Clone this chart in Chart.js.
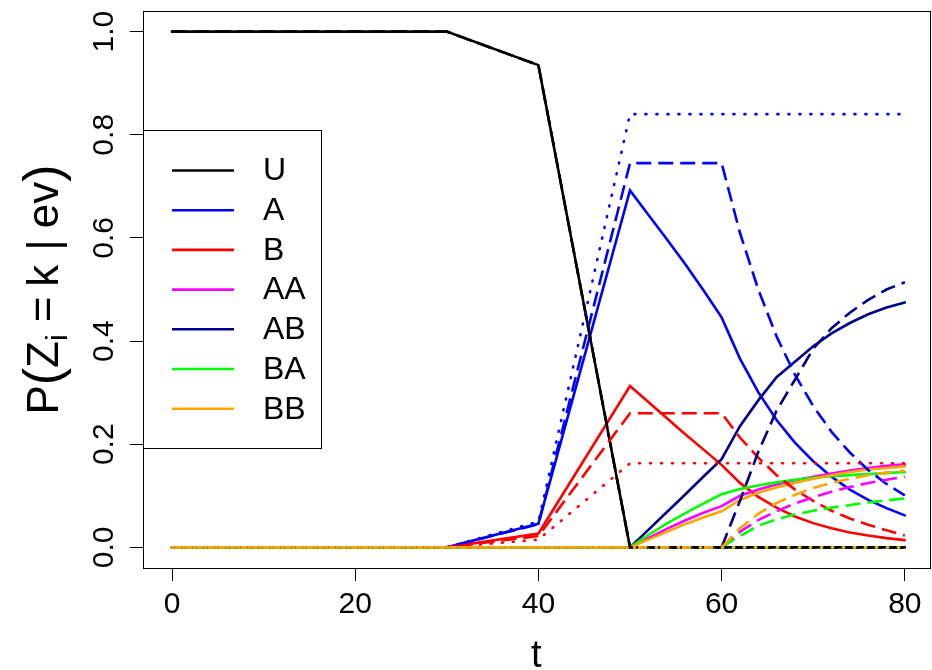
<!DOCTYPE html>
<html>
<head>
<meta charset="utf-8">
<script src="https://cdn.jsdelivr.net/npm/chart.js@4.4.1/dist/chart.umd.min.js"></script>
<style>
  html, body { margin: 0; padding: 0; background: #fff; }
  #wrap { width: 932px; height: 670px; }
</style>
</head>
<body>
<div id="wrap"><canvas id="chart" width="932" height="670"></canvas></div>
<script>
// time grid shared by every series
const tGrid = [0, 30, 40, 50, 52, 54, 56, 58, 60, 62, 64, 66, 68, 70, 72, 74, 76, 78, 80];

// solid lines
const uSolid  = [1, 1, 0.935, 0, 0, 0, 0, 0, 0, 0, 0, 0, 0, 0, 0, 0, 0, 0, 0];
const aSolid  = [0, 0, 0.046, 0.692, 0.645, 0.598, 0.55, 0.499, 0.446, 0.366, 0.301, 0.247, 0.203, 0.167, 0.137, 0.112, 0.092, 0.076, 0.062];
const bSolid  = [0, 0, 0.027, 0.313, 0.282, 0.251, 0.22, 0.19, 0.16, 0.125, 0.098, 0.077, 0.06, 0.047, 0.037, 0.029, 0.023, 0.018, 0.014];
const aaSolid = [0, 0, 0, 0, 0.018, 0.036, 0.052, 0.067, 0.08, 0.1, 0.112, 0.122, 0.13, 0.137, 0.143, 0.149, 0.154, 0.158, 0.161];
const abSolid = [0, 0, 0, 0, 0.034, 0.068, 0.102, 0.137, 0.171, 0.235, 0.285, 0.33, 0.36, 0.39, 0.415, 0.435, 0.452, 0.465, 0.475];
const baSolid = [0, 0, 0, 0, 0.024, 0.046, 0.066, 0.085, 0.103, 0.113, 0.12, 0.126, 0.131, 0.135, 0.138, 0.14, 0.142, 0.144, 0.146];
const bbSolid = [0, 0, 0, 0, 0.015, 0.03, 0.045, 0.058, 0.07, 0.092, 0.106, 0.116, 0.125, 0.133, 0.14, 0.146, 0.151, 0.154, 0.157];

// dashed lines
const uDashed  = [1, 1, 0.935, 0, 0, 0, 0, 0, 0, 0, 0, 0, 0, 0, 0, 0, 0, 0, 0];
const aDashed  = [0, 0, 0.045, 0.745, 0.745, 0.745, 0.745, 0.745, 0.745, 0.61, 0.5, 0.409, 0.335, 0.274, 0.224, 0.184, 0.15, 0.123, 0.101];
const bDashed  = [0, 0, 0.022, 0.26, 0.26, 0.26, 0.26, 0.26, 0.26, 0.213, 0.174, 0.14, 0.112, 0.09, 0.071, 0.056, 0.044, 0.033, 0.023];
const aaDashed = [0, 0, 0, 0, 0, 0, 0, 0, 0, 0.03, 0.053, 0.07, 0.085, 0.097, 0.108, 0.117, 0.125, 0.131, 0.137];
const abDashed = [0, 0, 0, 0, 0, 0, 0, 0, 0, 0.09, 0.185, 0.265, 0.325, 0.385, 0.425, 0.455, 0.48, 0.5, 0.514];
const baDashed = [0, 0, 0, 0, 0, 0, 0, 0, 0, 0.022, 0.042, 0.054, 0.064, 0.071, 0.077, 0.082, 0.087, 0.091, 0.095];
const bbDashed = [0, 0, 0, 0, 0, 0, 0, 0, 0, 0.037, 0.065, 0.086, 0.102, 0.115, 0.125, 0.133, 0.14, 0.145, 0.149];

// dotted lines
const uDotted  = [1, 1, 0.935, 0, 0, 0, 0, 0, 0, 0, 0, 0, 0, 0, 0, 0, 0, 0, 0];
const aDotted  = [0, 0, 0.05, 0.84, 0.84, 0.84, 0.84, 0.84, 0.84, 0.84, 0.84, 0.84, 0.84, 0.84, 0.84, 0.84, 0.84, 0.84, 0.84];
const bDotted  = [0, 0, 0.015, 0.163, 0.163, 0.163, 0.163, 0.163, 0.163, 0.163, 0.163, 0.163, 0.163, 0.163, 0.163, 0.163, 0.163, 0.163, 0.163];
const flatZero = [0, 0, 0, 0, 0, 0, 0, 0, 0, 0, 0, 0, 0, 0, 0, 0, 0, 0, 0];

const seriesNames = ['U', 'A', 'B', 'AA', 'AB', 'BA', 'BB'];
const seriesColors = ['#000000', '#0000ff', '#ff0000', '#ff00ff', '#00008b', '#00ff00', '#ffa500'];
const xTicks = [0, 20, 40, 60, 80];
const yTicks = [0, 0.2, 0.4, 0.6, 0.8, 1.0];

const groups = [
  { dash: [], cap: 'round', values: [uSolid, aSolid, bSolid, aaSolid, abSolid, baSolid, bbSolid] },
  { dash: [15, 7], cap: 'butt', values: [uDashed, aDashed, bDashed, aaDashed, abDashed, baDashed, bbDashed] },
  { dash: [1, 10], cap: 'round', values: [uDotted, aDotted, bDotted, flatZero, flatZero, flatZero, flatZero] },
];

const datasets = [];
groups.forEach(g => {
  g.values.forEach((vals, i) => {
    datasets.push({
      label: seriesNames[i],
      data: tGrid.map((t, k) => ({ x: t, y: vals[k] })),
      borderColor: seriesColors[i],
      borderWidth: 2.6,
      borderDash: g.dash,
      borderCapStyle: g.cap,
      pointRadius: 0,
      tension: 0,
      fill: false,
      order: -datasets.length,
    });
  });
});

const FONT = '"Liberation Sans", Arial, Helvetica, sans-serif';

const decor = {
  id: 'decor',
  afterDatasetsDraw(chart) {
    const ctx = chart.ctx;
    const a = chart.chartArea;
    const ys = chart.scales.y;
    ctx.save();
    // plot box
    ctx.strokeStyle = '#000';
    ctx.lineWidth = 1;
    ctx.strokeRect(Math.round(a.left) + 0.5, Math.round(a.top) + 0.5, Math.round(a.right - a.left), Math.round(a.bottom - a.top));

    // y tick labels, parallel to axis
    ctx.fillStyle = '#000';
    ctx.font = '30px ' + FONT;
    ctx.textAlign = 'center';
    ctx.textBaseline = 'middle';
    yTicks.forEach(v => {
      const y = ys.getPixelForValue(v);
      ctx.save();
      ctx.translate(105, y);
      ctx.rotate(-Math.PI / 2);
      ctx.fillText(v.toFixed(1), 0, 0);
      ctx.restore();
    });

    // x title
    ctx.font = '38px ' + FONT;
    ctx.textBaseline = 'alphabetic';
    ctx.fillText('t', (a.left + a.right) / 2, 667);

    // y title: P(Z_i = k | ev), centred on the plot region
    const parts = [
      ['P', 44, 0, 0], ['(', 52, 2, 0], ['Z', 44, 0, 0], ['i', 30, 9, 12],
      ['=', 44, 0, 10], ['k', 44, 0, 14], ['|', 44, 0, 11], ['ev', 44, 0, 0], [')', 52, 2, 0],
    ];
    let total = 0;
    parts.forEach(p => { ctx.font = p[1] + 'px ' + FONT; total += ctx.measureText(p[0]).width + p[3]; });
    ctx.save();
    ctx.translate(58, (a.top + a.bottom) / 2 + total / 2);
    ctx.rotate(-Math.PI / 2);
    ctx.textAlign = 'left';
    let x = 0;
    parts.forEach(p => {
      ctx.font = p[1] + 'px ' + FONT;
      ctx.fillText(p[0], x, p[2]);
      x += ctx.measureText(p[0]).width + p[3];
    });
    ctx.restore();

    // legend
    const lx = 143.5, ly = 130.5, lw = 178, lh = 318;
    ctx.fillStyle = '#fff';
    ctx.fillRect(lx, ly, lw, lh);
    ctx.strokeStyle = '#000';
    ctx.lineWidth = 1;
    ctx.strokeRect(lx, ly, lw, lh);
    ctx.font = '32px ' + FONT;
    ctx.textAlign = 'left';
    ctx.textBaseline = 'middle';
    seriesNames.forEach((name, i) => {
      const y = 170.5 + i * 39.7;
      ctx.strokeStyle = seriesColors[i];
      ctx.lineWidth = 2.6;
      ctx.beginPath();
      ctx.moveTo(172, y);
      ctx.lineTo(234, y);
      ctx.stroke();
      ctx.fillStyle = '#000';
      ctx.fillText(name, 263, y + 1);
    });
    ctx.restore();
  }
};

new Chart(document.getElementById('chart'), {
  type: 'line',
  data: { datasets },
  options: {
    responsive: false,
    animation: false,
    layout: { padding: { top: 11, right: 2, left: 0, bottom: 0 } },
    plugins: { legend: { display: false }, tooltip: { enabled: false } },
    scales: {
      x: {
        type: 'linear',
        min: -3.2,
        max: 82.75,
        afterBuildTicks: s => { s.ticks = xTicks.map(v => ({ value: v })); },
        afterFit: s => { s.height = 102; },
        grid: { drawOnChartArea: false, drawTicks: true, tickLength: 13, color: '#000', lineWidth: 1 },
        border: { display: false },
        ticks: { color: '#000', font: { family: FONT, size: 30 }, padding: 6, maxRotation: 0 },
      },
      y: {
        type: 'linear',
        min: -0.04,
        max: 1.04,
        afterBuildTicks: s => { s.ticks = yTicks.map(v => ({ value: v })); },
        afterFit: s => { s.width = 142.7; },
        grid: { drawOnChartArea: false, drawTicks: true, tickLength: 13, color: '#000', lineWidth: 1 },
        border: { display: false },
        ticks: { display: false },
      },
    },
  },
  plugins: [decor],
});
</script>
</body>
</html>
